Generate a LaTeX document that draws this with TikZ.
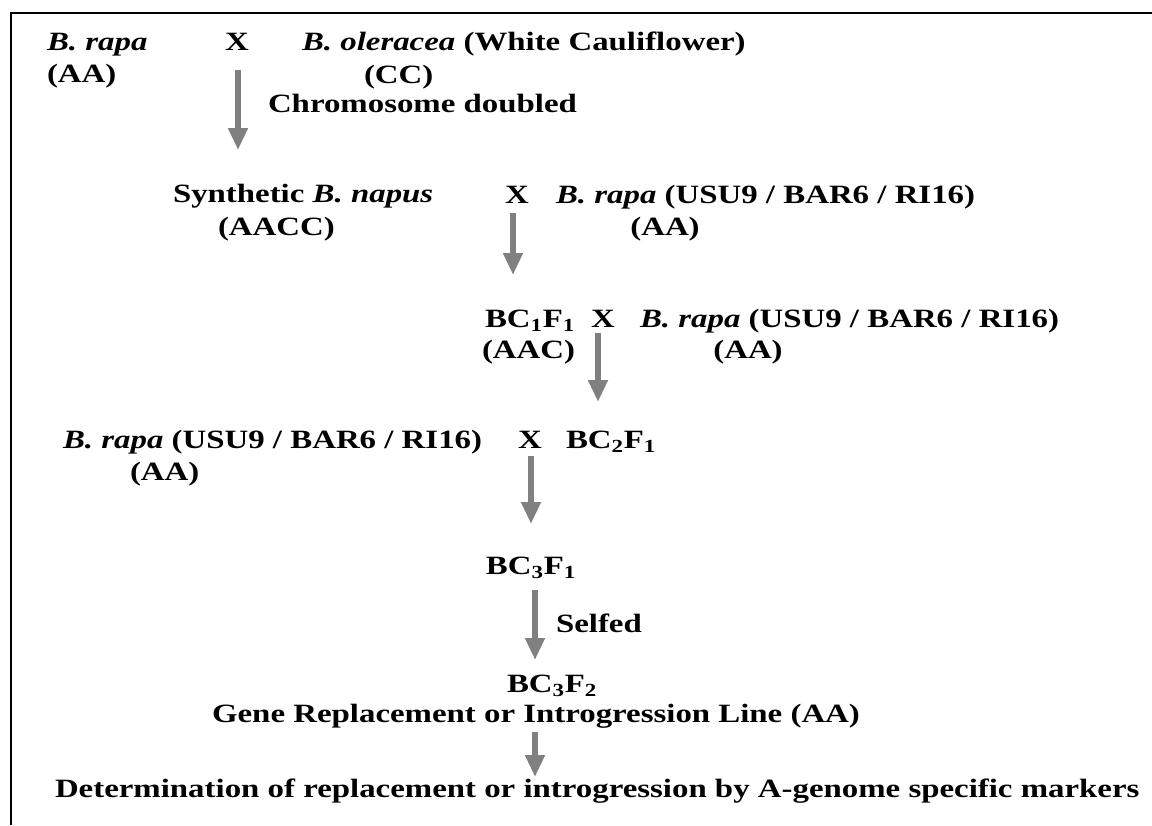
\documentclass[tikz,border=0pt]{standalone}
\usepackage{fontspec}
\setmainfont{Liberation Serif}[FakeStretch=1.245]
\usetikzlibrary{arrows.meta}
\definecolor{arrowgray}{HTML}{808080}
\begin{document}
\begin{tikzpicture}[x=0.75pt,y=-0.75pt,
  lbl/.style={font=\fontsize{19.8}{22}\selectfont\bfseries, inner sep=0pt, outer sep=0pt},
  lw/.style={lbl, anchor=base west},
  lc/.style={lbl, anchor=base},
  flow/.style={draw=arrowgray, line width=4.8pt, -{Triangle[width=14pt,length=16.5pt]}}]
\useasboundingbox (0,0) rectangle (1152,825);

% open frame: top and left edges
\draw[line width=2.2pt] (11,825) -- (11,13) -- (1152,13);

% first cross
\node[lw] (rapaA)   at (47,50)  {\textit{B. rapa}};
\node[lw] (rapaAg)  at (47,82)  {(AA)};
\node[lc] (x1)      at (237,50) {X};
\node[lw] (olera)   at (302,50) {\textit{B. oleracea} (White Cauliflower)};
\node[lw] (oleraG)  at (364,83) {(CC)};
\node[lw] (dbl)     at (268,112) {Chromosome doubled};

% synthetic napus crossed back to rapa
\node[lw] (napus)   at (173,202) {Synthetic \textit{B. napus}};
\node[lw] (napusG)  at (218,235) {(AACC)};
\node[lc] (x2)      at (517,203) {X};
\node[lw] (rec1)    at (556,203) {\textit{B. rapa} (USU9 / BAR6 / RI16)};
\node[lc] (rec1G)   at (665,235) {(AA)};

% first backcross
\node[lw] (bc1)     at (485,327) {BC\textsubscript{1}F\textsubscript{1}};
\node[lw] (bc1G)    at (482,358) {(AAC)};
\node[lc] (x3)      at (603,327) {X};
\node[lw] (rec2)    at (640,327) {\textit{B. rapa} (USU9 / BAR6 / RI16)};
\node[lc] (rec2G)   at (748,358) {(AA)};

% second backcross
\node[lw] (rec3)    at (63,448) {\textit{B. rapa} (USU9 / BAR6 / RI16)};
\node[lw] (rec3G)   at (130,480) {(AA)};
\node[lc] (x4)      at (530,448) {X};
\node[lw] (bc2)     at (566,448) {BC\textsubscript{2}F\textsubscript{1}};

% later generations
\node[lc] (bc3)     at (531,574) {BC\textsubscript{3}F\textsubscript{1}};
\node[lw] (self)    at (556,632) {Selfed};
\node[lw] (bc3f2)   at (507,692) {BC\textsubscript{3}F\textsubscript{2}};
\node[lc] (line)    at (536,722) {Gene Replacement or Introgression Line (AA)};
\node[lw] (markers) at (55,797)  {Determination of replacement or introgression by A-genome specific markers};

% arrow end points
\coordinate (a1s) at (238,70);  \coordinate (a1e) at (238,150);
\coordinate (a2s) at (513,213); \coordinate (a2e) at (513,275);
\coordinate (a3s) at (598,333); \coordinate (a3e) at (598,402);
\coordinate (a4s) at (531,456); \coordinate (a4e) at (531,524);
\coordinate (a5s) at (535,590); \coordinate (a5e) at (535,660);
\coordinate (a6s) at (535,732); \coordinate (a6e) at (535,777);

\draw[flow] (a1s) -- (a1e);
\draw[flow] (a2s) -- (a2e);
\draw[flow] (a3s) -- (a3e);
\draw[flow] (a4s) -- (a4e);
\draw[flow] (a5s) -- (a5e);
\draw[flow] (a6s) -- (a6e);
\end{tikzpicture}
\end{document}
